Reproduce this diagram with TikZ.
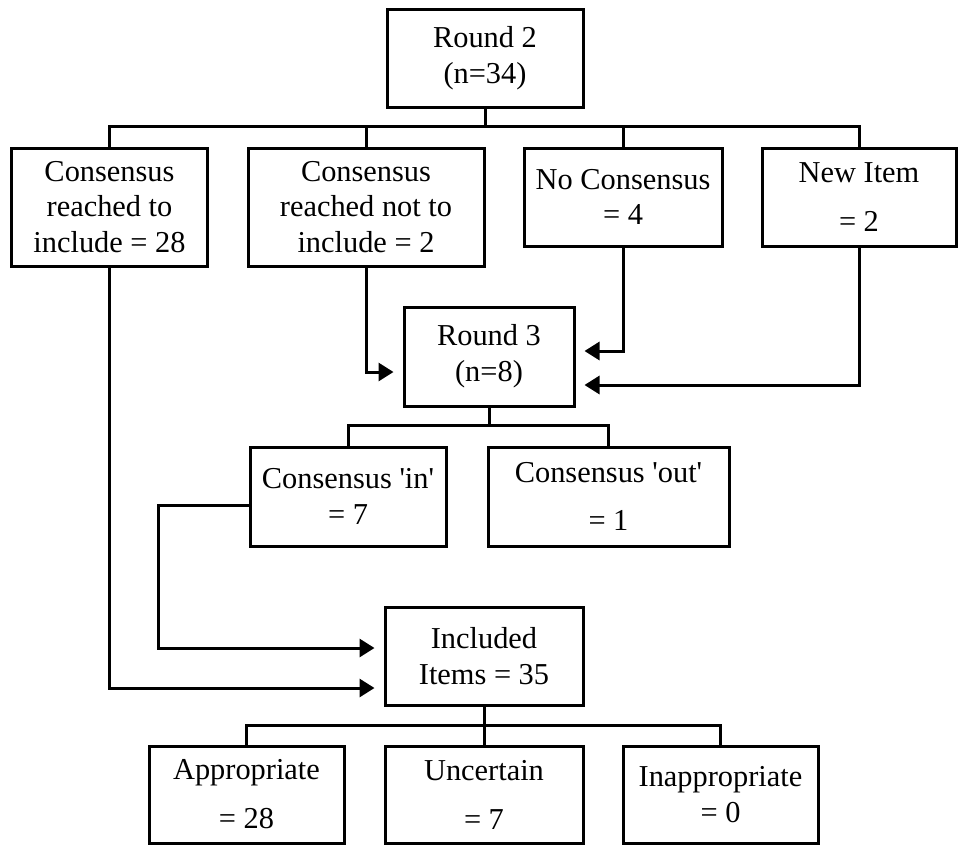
\documentclass[tikz,border=0pt]{standalone}
\usepackage{fontspec}
\setmainfont{Liberation Serif}
\usetikzlibrary{arrows.meta,positioning,calc}

\begin{document}
\begin{tikzpicture}[x=1bp,y=-1bp,
    box/.style={draw,line width=3bp,align=center,inner sep=0pt,
                font=\fontsize{30.5}{36}\selectfont},
    link/.style={line width=3bp},
    arr/.style={line width=3bp,-{Triangle[length=15bp,width=18bp]},
                shorten >=9bp}]
  \useasboundingbox (0,0) rectangle (958,845);
  %% Round 2 and its four outcomes
  \node[box,minimum width=196bp,minimum height=97bp] (r2) at (485,58.5)
       {Round 2\\(n=34)};
  \node[box,minimum width=195bp,minimum height=118bp] (incl) at (109.5,207)
       {Consensus\\reached to\\include = 28};
  \node[box,minimum width=236bp,minimum height=118bp] (notincl) at (366,207)
       {Consensus\\reached not to\\include = 2};
  \node[box,minimum width=198bp,minimum height=98bp] (nocons) at (623,197)
       {No Consensus\\= 4};
  \node[box,minimum width=194bp,minimum height=98bp] (newitem) at (859,197)
       {New Item\\[13bp]= 2};
  %% Round 3
  \node[box,minimum width=170bp,minimum height=99bp] (r3) at (489,356.5)
       {Round 3\\(n=8)};
  \node[box,minimum width=196bp,minimum height=99bp] (cin) at (348,496.5)
       {Consensus \textquotesingle in\textquotesingle\\= 7};
  \node[box,minimum width=241bp,minimum height=99bp] (cout) at (608.5,496.5)
       {Consensus \textquotesingle out\textquotesingle\\[12bp]= 1};
  %% Final list
  \node[box,minimum width=198bp,minimum height=98bp] (included) at (484,656)
       {Included\\Items = 35};
  \node[box,minimum width=195bp,minimum height=97bp] (appr) at (246.5,794.5)
       {Appropriate\\[13bp]= 28};
  \node[box,minimum width=198bp,minimum height=97bp] (unc) at (484,794.5)
       {Uncertain\\[13bp]= 7};
  \node[box,minimum width=195bp,minimum height=97bp] (inappr) at (720.5,794.5)
       {Inappropriate\\= 0};
  %% Branch lines
  \draw[link](incl.north)--++(0,-20.5) coordinate(bus1) -| (newitem.north);
  \draw[link](r2.south)--(r2.south |- bus1);
  \draw[link](notincl.north)--(notincl.north |- bus1);
  \draw[link](nocons.north)--(nocons.north |- bus1);
  \draw[link](cin.north)--++(0,-20) coordinate(bus2) -| (cout.north);
  \draw[link](r3.south)--(r3.south |- bus2);
  \draw[link](appr.north)--++(0,-19) coordinate(bus3) -| (inappr.north);
  \draw[link](included.south)--(unc.north);
  %% Arrows into Round 3
  \draw[arr](notincl.south) |- ([yshift=-15.5bp]r3.west);
  \draw[arr](nocons.south) |- ([yshift=5.5bp]r3.east);
  \draw[arr](newitem.south) |- ([yshift=-28.5bp]r3.east);
  %% Arrows into Included Items
  \draw[arr]([yshift=-8.5bp]cin.west)--++(-90,0) |- ([yshift=8bp]included.west);
  \draw[arr](incl.south) |- ([yshift=-32bp]included.west);
\end{tikzpicture}
\end{document}
